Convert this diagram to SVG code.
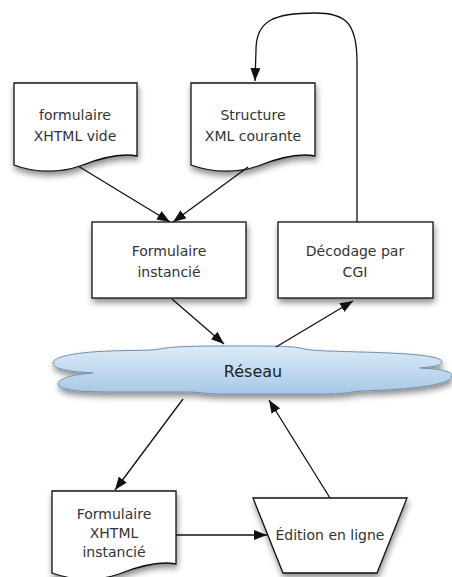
<svg xmlns="http://www.w3.org/2000/svg" width="452" height="577" viewBox="0 0 452 577">
<defs>
<style>
.shape{fill:#fff;stroke:#111;stroke-width:1.3}
.t{font-family:"DejaVu Sans",sans-serif;font-size:14px;fill:#333;text-anchor:middle}
.edge{fill:none;stroke:#111;stroke-width:1.3}
</style>
<filter id="sh" x="-20%" y="-20%" width="140%" height="150%">
<feDropShadow dx="1" dy="4" stdDeviation="3" flood-color="#000" flood-opacity="0.45"/>
</filter>
<linearGradient id="cg" x1="0" y1="0" x2="0" y2="1">
<stop offset="0" stop-color="#dcebf8"/>
<stop offset="1" stop-color="#a8c8e6"/>
</linearGradient>
<marker id="ah" markerUnits="userSpaceOnUse" markerWidth="14" markerHeight="10" refX="13" refY="5" orient="auto">
<path d="M0,0 L13,5 L0,10 Z" fill="#111"/>
</marker>
</defs>
<rect width="452" height="577" fill="#fff"/>

<g id="doc-vide">
<path class="shape" filter="url(#sh)" d="M14,83 H137 V156 C122,153 100,158 80,166 C60,173 35,173 14,165 Z"/>
<text class="t" x="75" y="120">formulaire</text>
<text class="t" x="75" y="141">XHTML vide</text>
</g>
<g id="doc-structure">
<path class="shape" filter="url(#sh)" d="M191,83 H315 V156 C300,153 278,158 258,166 C238,173 213,173 191,165 Z"/>
<text class="t" x="253" y="120">Structure</text>
<text class="t" x="253" y="141">XML courante</text>
</g>
<g id="formulaire-instancie">
<rect class="shape" filter="url(#sh)" x="92" y="222" width="154" height="76"/>
<text class="t" x="169" y="256">Formulaire</text>
<text class="t" x="169" y="277">instancié</text>
</g>
<g id="decodage">
<rect class="shape" filter="url(#sh)" x="278" y="222" width="155" height="76"/>
<text class="t" x="355" y="256">Décodage par</text>
<text class="t" x="355" y="277">CGI</text>
</g>
<g id="reseau">
<path filter="url(#sh)" fill="url(#cg)" stroke="#6f8fae" stroke-width="1" d="M93,373 C75,372 53,370 53,363 C53,356 80,352 110,351 C130,350 150,351 160,349 C175,346 200,346 240,346 C270,346 290,346 300,348 C310,351 330,351 360,352 C400,353 442,355 442,362 C442,366 430,367 420,368 C440,369 452,371 452,376 C452,386 400,390 360,391 C350,392 345,394 320,394 L220,394 C205,394 200,392 190,392 L110,392 C80,392 58,390 58,384 C58,377 80,374 93,373 Z"/>
<text class="t" x="253" y="377" style="font-size:16px;fill:#222">Réseau</text>
</g>
<g id="doc-xhtml-instancie">
<path class="shape" filter="url(#sh)" d="M52,491 H176 V564 C161,561 139,566 119,574 C99,581 74,581 52,573 Z"/>
<text class="t" x="114" y="519">Formulaire</text>
<text class="t" x="114" y="538">XHTML</text>
<text class="t" x="114" y="557">instancié</text>
</g>
<g id="edition">
<path class="shape" filter="url(#sh)" d="M253,498 H407 L377,573 H283 Z"/>
<text class="t" x="330" y="540">Édition en ligne</text>
</g>

<g id="connectors">
<path class="edge" marker-end="url(#ah)" d="M78,166 L170,222"/>
<path class="edge" marker-end="url(#ah)" d="M248,167 L173,222"/>
<path class="edge" marker-end="url(#ah)" d="M172,299 L224,344"/>
<path class="edge" marker-end="url(#ah)" d="M276,347 L353,301"/>
<path class="edge" marker-end="url(#ah)" d="M183,399 L115,490"/>
<path class="edge" marker-end="url(#ah)" d="M330,498 L269,400"/>
<path class="edge" marker-end="url(#ah)" d="M176,535 L267,535"/>
<path class="edge" marker-end="url(#ah)" d="M357,222 L357,62 C357,22 345,13 315,13 C275,13 256,20 256,50 L255,81"/>
</g>
</svg>
